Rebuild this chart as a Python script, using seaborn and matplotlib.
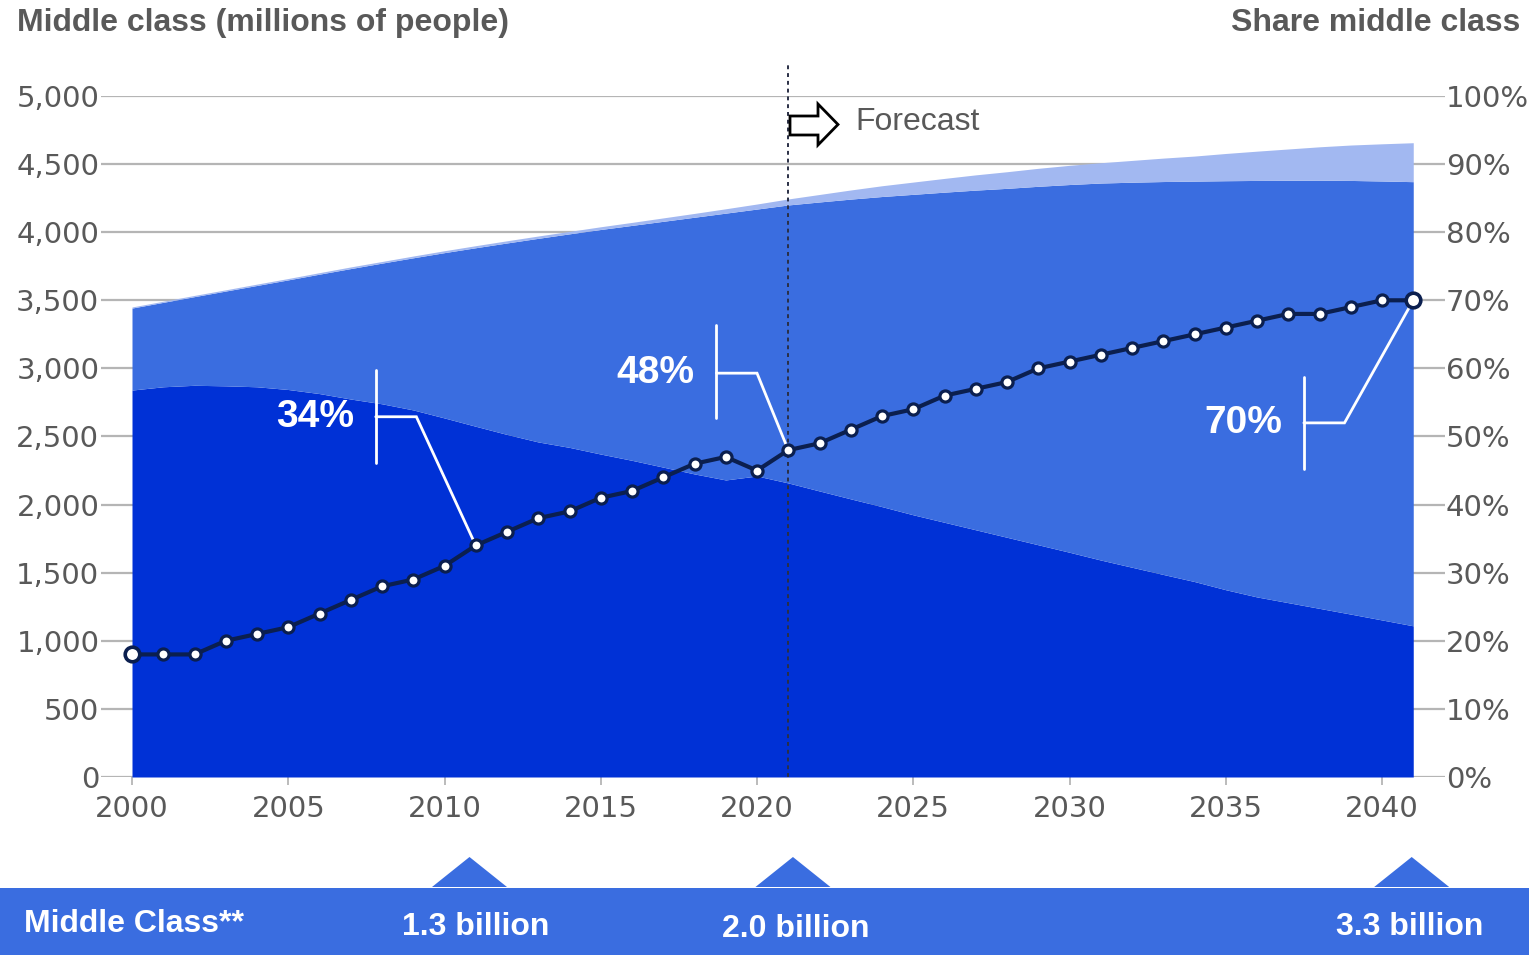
import numpy as np
import pandas as pd
import matplotlib
matplotlib.use("Agg")
import matplotlib.pyplot as plt
import matplotlib.patches as mpatches
import matplotlib.transforms as mtransforms
import seaborn as sns

# ---------------- data ----------------
years = list(range(2000, 2042))
lower_class = [2841, 2865, 2876, 2872, 2865, 2845, 2815, 2775, 2740, 2695,
               2636, 2575, 2515, 2460, 2420, 2371, 2325, 2275, 2225, 2181,
               2210, 2159, 2100, 2042, 1985, 1925, 1870, 1815, 1760, 1705,
               1650, 1593, 1540, 1487, 1435, 1375, 1322, 1280, 1238, 1196,
               1153, 1110]
middle_class = [602, 620, 651, 696, 744, 805, 877, 958, 1033, 1117,
                1214, 1311, 1406, 1495, 1568, 1649, 1725, 1805, 1885, 1959,
                1960, 2041, 2122, 2201, 2277, 2353, 2424, 2494, 2562, 2632,
                2700, 2768, 2827, 2885, 2940, 3003, 3058, 3101, 3144, 3184,
                3223, 3261]
upper_class = [8, 8, 9, 9, 10, 10, 11, 12, 12, 13,
               14, 15, 16, 17, 18, 20, 22, 25, 28, 32,
               37, 44, 55, 67, 79, 90, 101, 112, 122, 132,
               141, 149, 160, 172, 184, 200, 215, 230, 245, 260,
               273, 286]
share_middle = [18, 18, 18, 20, 21, 22, 24, 26, 28, 29,
                31, 34, 36, 38, 39, 41, 42, 44, 46, 47,
                45, 48, 49, 51, 53, 54, 56, 57, 58, 60,
                61, 62, 63, 64, 65, 66, 67, 68, 68, 69,
                70, 70]

left_ticks = [0, 500, 1000, 1500, 2000, 2500, 3000, 3500, 4000, 4500, 5000]
right_ticks = [0, 10, 20, 30, 40, 50, 60, 70, 80, 90, 100]
x_ticks = [2000, 2005, 2010, 2015, 2020, 2025, 2030, 2035, 2040]

forecast_year = 2021
forecast_label = "Forecast"
callout_years = [2011, 2021, 2041]
callout_labels = ["34%", "48%", "70%"]
bar_title = "Middle Class**"
bar_labels = ["1.3 billion", "2.0 billion", "3.3 billion"]

# ---------------- style ----------------
C_DARK = "#0031D6"
C_MID = "#3A6DE0"
C_LIGHT = "#A2B8F1"
C_LINE = "#0B1F4F"
C_TEXT = "#595959"
C_GRID = "#B5B5B5"

sns.set_theme(style="white")
plt.rcParams["font.family"] = ["DejaVu Sans"]
ARIAL = ["Liberation Sans", "DejaVu Sans"]
NARROW = ["Liberation Sans Narrow", "Liberation Sans", "DejaVu Sans"]

W, H = 1529, 955
fig = plt.figure(figsize=(W / 100, H / 100), dpi=100)
fig.patch.set_facecolor("white")


def fx(px):
    return px / W


def fy(py):
    return (H - py) / H


ax = fig.add_axes([fx(100.75), fy(777), fx(1444.5) - fx(100.75), fy(96) - fy(777)])
ax.set_facecolor("none")

df = pd.DataFrame({"year": years, "lower": lower_class, "middle": middle_class,
                   "upper": upper_class, "share": share_middle})

ax.stackplot(df["year"], df["lower"], df["middle"], df["upper"],
             colors=[C_DARK, C_MID, C_LIGHT], linewidth=0, zorder=2)

ax.set_xlim(1999, 2042)
ax.set_ylim(0, 5000)
ax.set_yticks(left_ticks)
ax.set_yticklabels([f"{v:,}" for v in left_ticks])
ax.set_xticks(x_ticks)
ax.yaxis.grid(True, color=C_GRID, linewidth=1.6, zorder=0)
ax.xaxis.grid(False)
ax.set_axisbelow(True)
for s in ax.spines.values():
    s.set_visible(False)
ax.tick_params(axis="y", length=0, pad=1, labelsize=21, labelcolor=C_TEXT)
ax.tick_params(axis="x", length=6, width=1.3, color=C_GRID, pad=7,
               labelsize=21, labelcolor=C_TEXT, bottom=True)

# forecast divider
ax.plot([forecast_year, forecast_year], [0, 5250], linestyle=(0, (2, 2)),
        color="#2a2f45", linewidth=1.4, zorder=3, clip_on=False)

# share line on right axis
ax2 = ax.twinx()
ax2.set_ylim(0, 100)
ax2.set_yticks(right_ticks)
ax2.set_yticklabels([f"{v}%" for v in right_ticks])
ax2.tick_params(axis="y", length=0, pad=1, labelsize=21, labelcolor=C_TEXT)
ax2.grid(False)
for s in ax2.spines.values():
    s.set_visible(False)

# callouts (white leader lines + labels)
callout_geom = [
    # bar x, bar y-bottom, bar y-top, elbow y, elbow x, label x
    (2007.8, 46.1, 59.8, 52.9, 2009.1, 2007.1),
    (2018.7, 52.7, 66.4, 59.3, 2020.0, 2018.0),
    (2037.5, 45.2, 58.7, 52.0, 2038.8, 2036.8),
]
for yr, lab, (bx, yb, yt, ey, ex, tx) in zip(callout_years, callout_labels, callout_geom):
    sv = share_middle[years.index(yr)]
    ax2.plot([bx, bx], [yb, yt], color="white", lw=2, zorder=3)
    ax2.plot([bx, ex, yr], [ey, ey, sv], color="white", lw=2, zorder=3,
             solid_joinstyle="miter")
    ax2.text(tx, ey, lab, color="white", fontsize=28, fontweight="bold",
             family=ARIAL, ha="right", va="center", zorder=4)

sns.lineplot(data=df, x="year", y="share", ax=ax2, color=C_LINE, linewidth=3,
             marker="o", markersize=8, markerfacecolor="white",
             markeredgecolor=C_LINE, markeredgewidth=2.3, zorder=5)
ends = df.iloc[[0, -1]]
ax2.plot(ends["year"], ends["share"], linestyle="none", marker="o",
         markersize=10.5, markerfacecolor="white", markeredgecolor=C_LINE,
         markeredgewidth=2.6, zorder=6, clip_on=False)
ax2.set_xlabel("")
ax2.set_ylabel("")
ax.set_xlabel("")
ax.set_ylabel("")
ax2.set_xlim(1999, 2042)

# titles
fig.text(fx(17), fy(23), "Middle class (millions of people)", fontsize=23,
         fontweight="bold", color=C_TEXT, family=ARIAL, va="center", ha="left")
fig.text(fx(1520), fy(23), "Share middle class", fontsize=23,
         fontweight="bold", color=C_TEXT, family=ARIAL, va="center", ha="right")

# forecast arrow + label
arrow_px = [(790, 116), (818, 116), (818, 104), (838, 124.5), (818, 145),
            (818, 135), (790, 135)]
fig.patches.append(mpatches.Polygon([(fx(x), fy(y)) for x, y in arrow_px],
                                    closed=True, facecolor="white",
                                    edgecolor="black", linewidth=2,
                                    transform=fig.transFigure, zorder=10))
fig.text(fx(855), fy(122), forecast_label, fontsize=23, color=C_TEXT,
         family=ARIAL, va="center", ha="left")

# bottom band
fig.patches.append(mpatches.Rectangle((0, 0), 1, fy(888), transform=fig.transFigure,
                                      facecolor=C_MID, edgecolor="none", zorder=1))
blend = mtransforms.blended_transform_factory(ax.transData, fig.transFigure)
label_shift = [0.0, 0.25, -0.1]
label_y = [927, 929, 927]
tri_shift = [-0.2, 0.15, -0.05]
for yr, lab, ls, ly, ts in zip(callout_years, bar_labels, label_shift, label_y, tri_shift):
    cx = yr + ts
    tri = mpatches.Polygon([(cx - 1.2, fy(887)), (cx, fy(857)), (cx + 1.2, fy(887))],
                           closed=True, facecolor=C_MID, edgecolor="none",
                           transform=blend, clip_on=False, zorder=1)
    fig.patches.append(tri)
    fig.text(yr + ls, fy(ly), lab, transform=blend, fontsize=23, fontweight="bold",
             color="white", family=NARROW, ha="center", va="center")
fig.text(fx(24), fy(924), bar_title, fontsize=23, fontweight="bold",
         color="white", family=NARROW, ha="left", va="center")

fig.savefig("out.png", dpi=100, facecolor="white")
